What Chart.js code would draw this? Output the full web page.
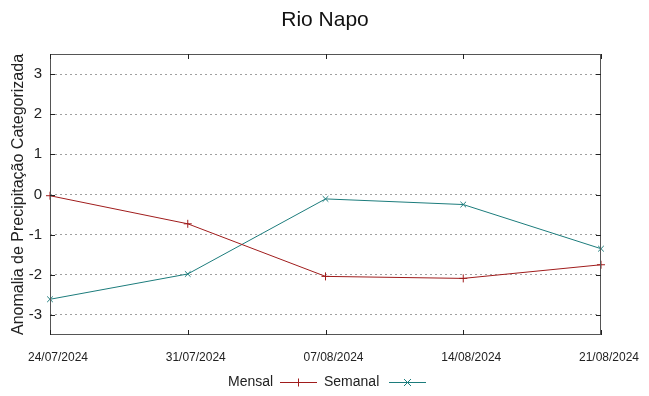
<!DOCTYPE html>
<html>
<head>
<meta charset="utf-8">
<script src="https://cdn.jsdelivr.net/npm/chart.js@4"></script>
<style>
  html, body { margin: 0; padding: 0; background: #fff; }
  #wrap { width: 649px; height: 396px; }
</style>
</head>
<body>
<div id="wrap"><canvas id="chart" width="649" height="396"></canvas></div>
<script>
// data
const dates = ["24/07/2024", "31/07/2024", "07/08/2024", "14/08/2024", "21/08/2024"];
const mensal = [-0.03, -0.73, -2.04, -2.09, -1.75];
const semanal = [-2.61, -1.98, -0.11, -0.25, -1.35];
const yTicks = [-3, -2, -1, 0, 1, 2, 3];

const RED = "#a01c1c";
const TEAL = "#1c7c7c";
const FONT = "'Liberation Sans', Arial, sans-serif";

// plot box (gnuplot-like frame)
const BOX = { left: 50, right: 601, top: 54, bottom: 335 };

const framePlugin = {
  id: "frame",
  afterDraw(chart) {
    const ctx = chart.ctx;
    const area = chart.chartArea;
    const ys = chart.scales.y;
    const xs = chart.scales.x;
    ctx.save();
    ctx.strokeStyle = "#555";
    ctx.lineWidth = 1;
    ctx.strokeRect(area.left + 0.5, area.top + 0.5, area.right - area.left - 1, area.bottom - area.top - 1);
    ctx.strokeStyle = "#222";
    // inward ticks
    yTicks.forEach((v) => {
      const y = Math.round(ys.getPixelForValue(v)) + 0.5;
      ctx.beginPath();
      ctx.moveTo(area.left, y); ctx.lineTo(area.left + 5, y);
      ctx.moveTo(area.right, y); ctx.lineTo(area.right - 5, y);
      ctx.stroke();
    });
    dates.forEach((d, i) => {
      const x = Math.round(xs.getPixelForValue(i)) + 0.5;
      ctx.beginPath();
      ctx.moveTo(x, area.bottom); ctx.lineTo(x, area.bottom - 5);
      ctx.moveTo(x, area.top); ctx.lineTo(x, area.top + 5);
      ctx.stroke();
    });

    // title, centred on the whole canvas
    ctx.fillStyle = "#111";
    ctx.textAlign = "center";
    ctx.textBaseline = "middle";
    ctx.font = "21px " + FONT;
    ctx.fillText("Rio Napo", 325, 20);

    // legend in gnuplot style: text then line sample with marker
    ctx.font = "14px " + FONT;
    ctx.fillStyle = "#222";
    ctx.textAlign = "left";
    const ly = 382.5;
    ctx.fillText("Mensal", 228, ly);
    ctx.fillText("Semanal", 324, ly);
    ctx.lineWidth = 1;
    ctx.strokeStyle = RED;
    ctx.beginPath();
    ctx.moveTo(280, ly); ctx.lineTo(317, ly);
    ctx.moveTo(298.5, ly - 4); ctx.lineTo(298.5, ly + 4);
    ctx.stroke();
    ctx.strokeStyle = TEAL;
    ctx.beginPath();
    ctx.moveTo(389, ly); ctx.lineTo(426, ly);
    ctx.moveTo(404, ly - 3.5); ctx.lineTo(411, ly + 3.5);
    ctx.moveTo(404, ly + 3.5); ctx.lineTo(411, ly - 3.5);
    ctx.stroke();
    ctx.restore();
  }
};

new Chart(document.getElementById("chart"), {
  type: "line",
  data: {
    labels: dates,
    datasets: [
      {
        label: "Mensal",
        data: mensal,
        borderColor: RED,
        backgroundColor: RED,
        borderWidth: 1,
        pointStyle: "cross",
        pointRadius: 4,
        pointBorderWidth: 1,
        tension: 0,
      },
      {
        label: "Semanal",
        data: semanal,
        borderColor: TEAL,
        backgroundColor: TEAL,
        borderWidth: 1,
        pointStyle: "crossRot",
        pointRadius: 4,
        pointBorderWidth: 1,
        tension: 0,
      },
    ],
  },
  options: {
    responsive: false,
    animation: false,
    layout: { padding: { left: 0, right: 649 - BOX.right, top: BOX.top, bottom: 0 } },
    plugins: {
      legend: { display: false },
      tooltip: { enabled: false },
      title: { display: false },
    },
    scales: {
      x: {
        type: "category",
        offset: false,
        grid: { display: false, drawTicks: false },
        border: { display: false },
        ticks: {
          color: "#222",
          font: { family: FONT, size: 12 },
          maxRotation: 0,
          autoSkip: false,
          padding: 15,
          labelOffset: 8,
        },
        afterFit(scale) { scale.height = 396 - BOX.bottom; },
      },
      y: {
        min: -3.5,
        max: 3.5,
        afterBuildTicks(scale) { scale.ticks = yTicks.map((v) => ({ value: v })); },
        grid: {
          color: "#a0a0a0",
          lineWidth: 1,
          drawTicks: false,
        },
        border: { display: false, dash: [2, 3] },
        ticks: {
          color: "#222",
          font: { family: FONT, size: 15 },
          padding: 8,
        },
        title: {
          display: true,
          text: "Anomalia de Precipitação Categorizada",
          color: "#222",
          font: { family: FONT, size: 16 },
          padding: { top: 9, bottom: 4 },
        },
        afterFit(scale) { scale.width = BOX.left; },
      },
    },
  },
  plugins: [framePlugin],
});
</script>
</body>
</html>
